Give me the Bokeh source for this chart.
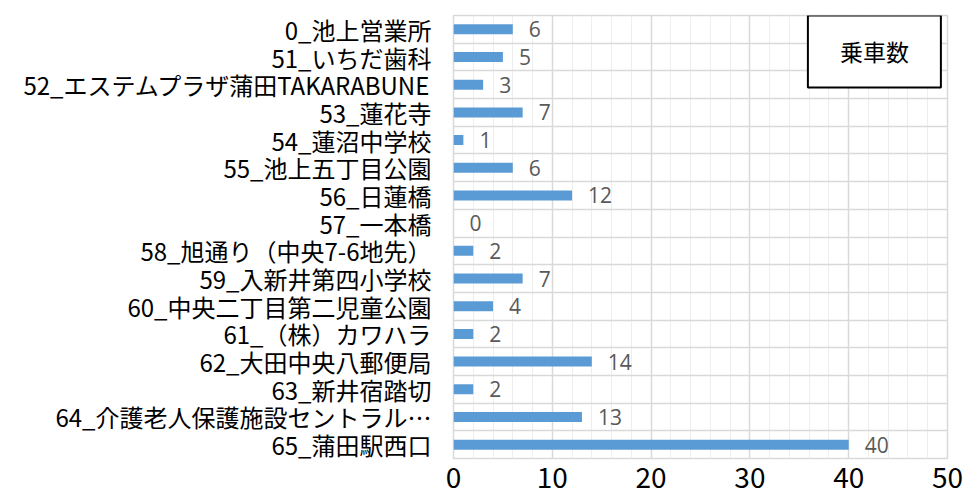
from bokeh.plotting import figure
from bokeh.models import (ColumnDataSource, Range1d, FixedTicker, SingleIntervalTicker,
                          Grid, Label, LabelSet)
from bokeh.core.properties import value
from bokeh.embed import file_html
from bokeh.resources import INLINE

stops = ["0_池上営業所", "51_いちだ歯科", "52_エステムプラザ蒲田TAKARABUNE", "53_蓮花寺",
         "54_蓮沼中学校", "55_池上五丁目公園", "56_日蓮橋", "57_一本橋",
         "58_旭通り（中央7-6地先）", "59_入新井第四小学校", "60_中央二丁目第二児童公園",
         "61_（株）カワハラ", "62_大田中央八郵便局", "63_新井宿踏切",
         "64_介護老人保護施設セントラル…", "65_蒲田駅西口"]
riders = [6, 5, 3, 7, 1, 6, 12, 0, 2, 7, 4, 2, 14, 2, 13, 40]
series_name = "乗車数"
x_ticks = [0, 10, 20, 30, 40, 50]

n = len(stops)
ypos = [n - 0.5 - i for i in range(n)]
src = ColumnDataSource(dict(y=ypos, v=riders, t=[str(v) for v in riders]))

JP = "Noto Sans CJK JP"

p = figure(width=970, height=500, output_backend="svg", toolbar_location=None,
           x_range=Range1d(x_ticks[0], x_ticks[-1]), y_range=Range1d(0, n),
           min_border_left=453, min_border_right=23, min_border_top=15, min_border_bottom=42)
p.background_fill_color = "white"
p.border_fill_color = "white"
p.outline_line_color = "#d9d9d9"
p.outline_line_width = 1.5

p.hbar(y="y", right="v", left=0, height=0.36, source=src, color="#5b9bd5", line_color=None)

labels = LabelSet(x="v", y="y", text="t", source=src, x_offset=16, text_align="left",
                  text_baseline="middle", text_font_size="21px", text_color="#595959",
                  text_font=value("Open Sans"))
p.add_layout(labels)

# x axis
xt = SingleIntervalTicker(interval=10, num_minor_ticks=5)
p.xaxis.ticker = xt
p.xaxis.axis_line_color = None
p.xaxis.major_tick_line_color = None
p.xaxis.minor_tick_line_color = None
p.xaxis.major_tick_out = 0
p.xaxis.minor_tick_out = 0
p.xaxis.major_label_text_font = JP
p.xaxis.major_label_text_font_size = "28px"
p.xaxis.major_label_text_color = "#000000"
p.xaxis.major_label_standoff = 8
p.xgrid.ticker = xt
p.xgrid.grid_line_color = "#d9d9d9"
p.xgrid.grid_line_width = 1.5
p.xgrid.minor_grid_line_color = "#eeeeee"
p.xgrid.minor_grid_line_width = 1

# y axis
p.yaxis.ticker = FixedTicker(ticks=ypos)
p.yaxis.major_label_overrides = {y: s for y, s in zip(ypos, stops)}
p.yaxis.axis_line_color = None
p.yaxis.major_tick_line_color = None
p.yaxis.minor_tick_line_color = None
p.yaxis.major_tick_out = 0
p.yaxis.minor_tick_out = 0
p.yaxis.major_label_text_font = JP
p.yaxis.major_label_text_font_size = "24px"
p.yaxis.major_label_text_color = "#000000"
p.yaxis.major_label_standoff = 22
p.ygrid.visible = False
p.add_layout(Grid(dimension=1, ticker=FixedTicker(ticks=list(range(n + 1))),
                  grid_line_color="#d9d9d9", grid_line_width=1.5))

leg = Label(x=42.6, y=14.7, text=series_name, text_align="center", text_baseline="middle",
            text_font=JP, text_font_size="23px", text_color="#000000",
            background_fill_color="white", border_line_color="#000000", border_line_width=2,
            padding=dict(left=32, right=32, top=19, bottom=19))
p.add_layout(leg)

open("out.html", "w").write(file_html(p, INLINE))
